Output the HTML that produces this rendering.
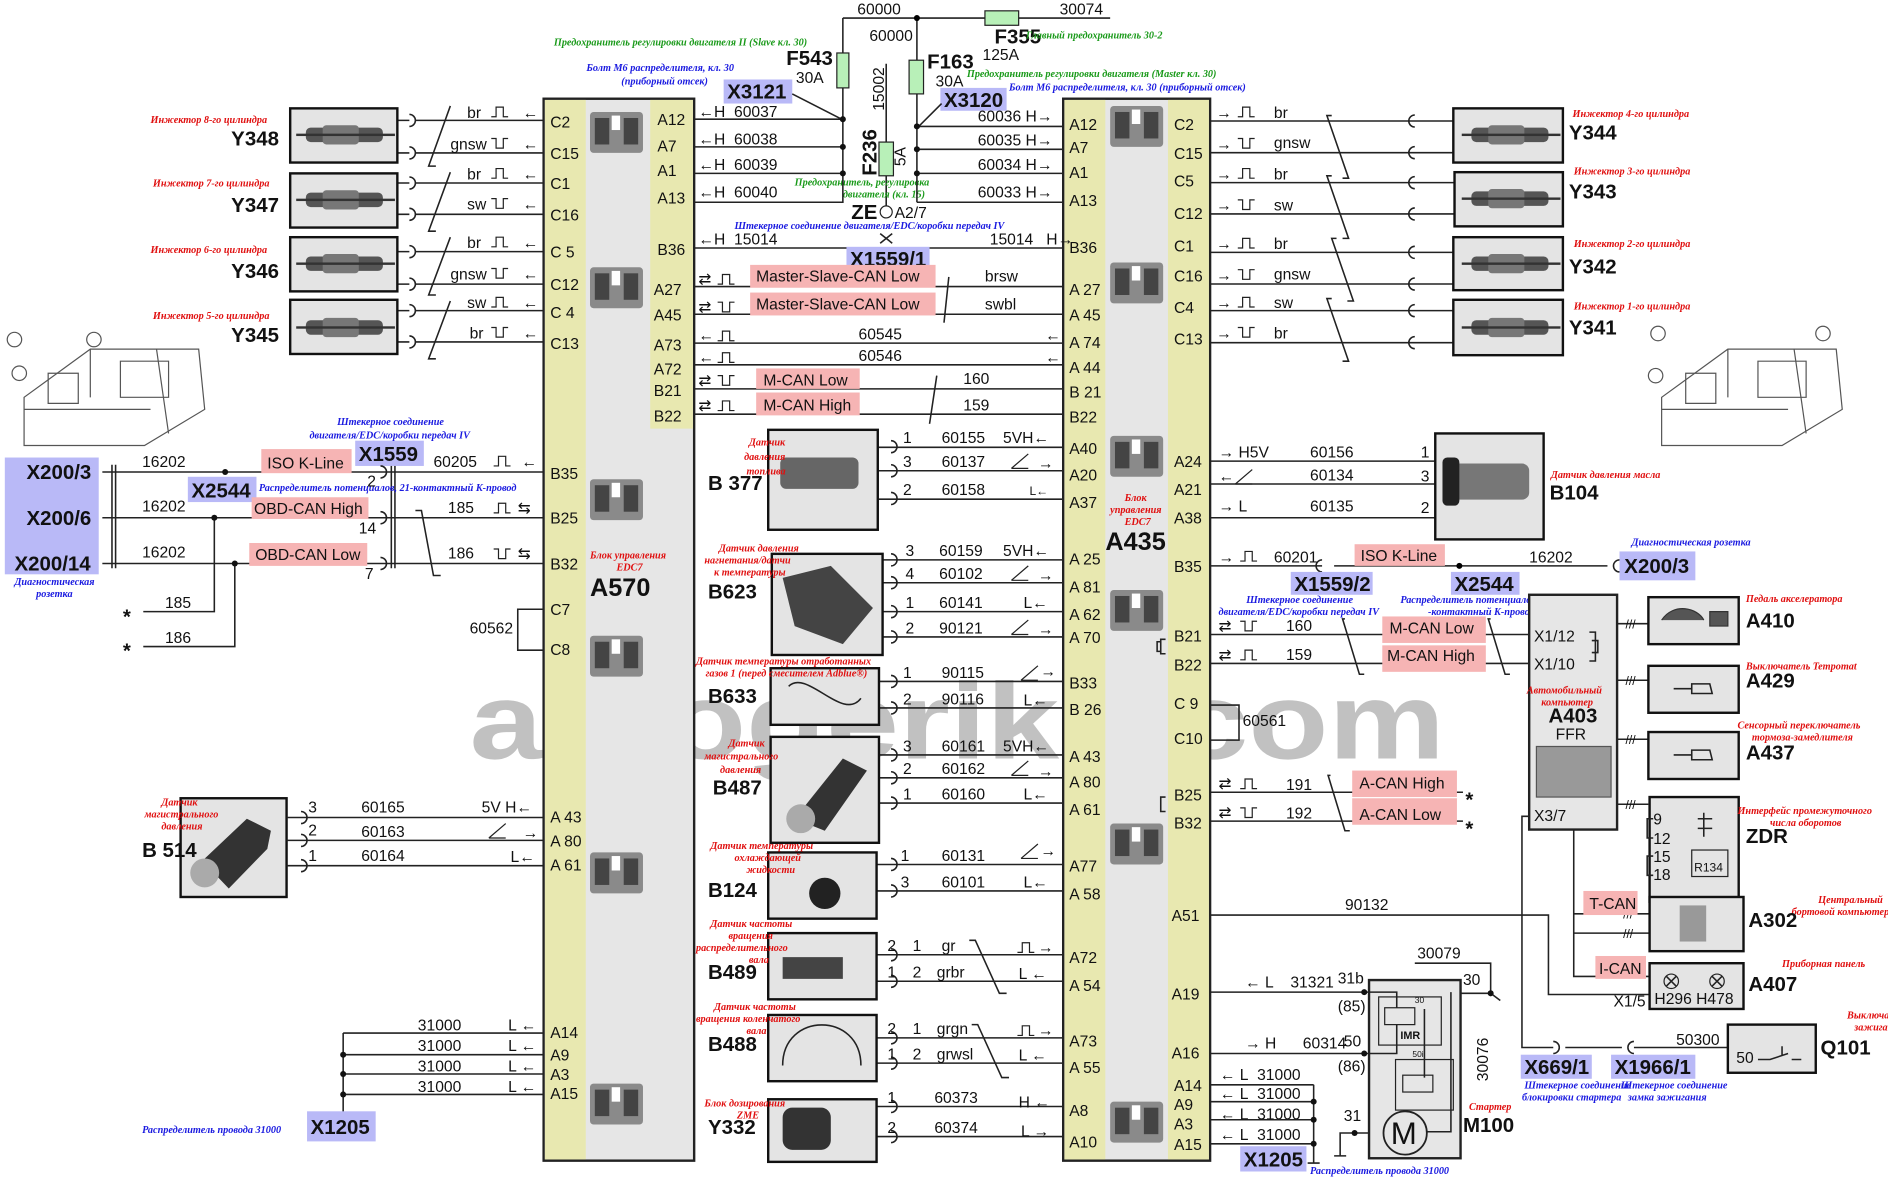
<!DOCTYPE html>
<html><head><meta charset="utf-8"><style>
html,body{margin:0;padding:0;background:#fff}
svg{display:block}
text{font-family:"Liberation Sans",sans-serif;font-size:13px;fill:#111}
.b{font-weight:bold;font-size:17px}
.r{font-family:"Liberation Serif",serif;font-style:italic;font-weight:bold;font-size:8.5px;fill:#e01010}
.u{font-family:"Liberation Serif",serif;font-style:italic;font-weight:bold;font-size:8.5px;fill:#1a1ae0}
.g{font-family:"Liberation Serif",serif;font-style:italic;font-weight:bold;font-size:8.5px;fill:#1a9a1a}
.w{font-size:90px;font-weight:bold;fill:#999;opacity:.6}
.l{stroke:#222;stroke-width:1.3;fill:none}
.pk{fill:#f6b4b4}
.bx{fill:#b9b9f7}
.ph{fill:#e4e4e4;stroke:#111;stroke-width:2}
</style></head><body>
<svg width="1888" height="1178" viewBox="0 0 1568 978.4" preserveAspectRatio="none" xmlns="http://www.w3.org/2000/svg">
<defs>
<path id="pu" d="M0,0h4v-8h6v8h4" fill="none" stroke="#222" stroke-width="1"/>
<path id="pd" d="M0,-8h4v8h6v-8h4" fill="none" stroke="#222" stroke-width="1"/>
<path id="rp" d="M0,0l14,-12M0,0h14" fill="none" stroke="#222" stroke-width="1"/>
<g id="ecu"><rect x="0" y="0" width="44" height="34" rx="3" fill="#8a8a8a"/><rect x="4" y="5" width="12" height="22" fill="#444"/><rect x="28" y="5" width="12" height="22" fill="#444"/><rect x="18" y="3" width="7" height="12" fill="#fff"/></g>
<g id="inj"><rect x="10" y="-6" width="64" height="12" rx="4" fill="#555"/><rect x="24" y="-8" width="30" height="16" rx="3" fill="#777"/><rect x="2" y="-1" width="82" height="2" fill="#333"/></g>
</defs>

<!-- watermark -->
<text class="w" x="390" y="630" textLength="810" lengthAdjust="spacingAndGlyphs">autogeriko.com</text>

<!-- top fuses -->
<path class="l" d="M700,15H922M700,15V144M761.5,15V144M736,53V171"/>
<circle cx="761.5" cy="15" r="2.5"/>
<rect x="818" y="9" width="28" height="12" fill="#b8f0b8" stroke="#222"/>
<rect x="695" y="44" width="10" height="29" fill="#b8f0b8" stroke="#222"/>
<rect x="755" y="50" width="12" height="28" fill="#b8f0b8" stroke="#222"/>
<rect x="730" y="118" width="12" height="28" fill="#b8f0b8" stroke="#222"/>
<text x="712" y="12">60000</text><text x="722" y="34">60000</text><text x="880" y="12">30074</text>
<text class="b" x="826" y="36">F355</text><text class="g" x="852" y="32">Главный предохранитель 30-2</text><text x="816" y="50">125A</text>
<text class="b" x="653" y="54">F543</text><text x="661" y="69">30A</text>
<text class="b" x="770" y="57">F163</text><text x="777" y="72">30A</text>
<text transform="translate(734,92) rotate(-90)">15002</text>
<text class="b" transform="translate(728,146) rotate(-90)">F236</text>
<text transform="translate(752,138) rotate(-90)">5A</text>
<text class="g" x="460" y="38">Предохранитель регулировки двигателя II (Slave кл. 30)</text>
<text class="u" x="487" y="59">Болт M6 распределителя, кл. 30</text><text class="u" x="516" y="70">(приборный отсек)</text>
<rect class="bx" x="601" y="66" width="57" height="20"/><text class="b" x="604" y="82">X3121</text>
<path class="l" d="M658,78L699,99"/>
<text class="g" x="803" y="64">Предохранитель регулировки двигателя (Master кл. 30)</text>
<text class="u" x="838" y="75">Болт M6 распределителя, кл. 30 (приборный отсек)</text>
<rect class="bx" x="781" y="73" width="55" height="19"/><text class="b" x="784" y="89">X3120</text>
<path class="l" d="M782,86L763,105"/>
<text class="g" x="660" y="154">Предохранитель, регулировка</text><text class="g" x="700" y="164">двигателя (кл. 15)</text>
<text class="b" x="707" y="182">ZE</text><circle cx="736" cy="176" r="5" fill="#fff" stroke="#222"/><text x="743" y="181">A2/7</text>
<text class="u" x="610" y="190">Штекерное соединение двигателя/EDC/коробки передач IV</text>

<!-- A570 -->
<rect x="451.5" y="82" width="125" height="882" fill="#e6e6e6" stroke="#222" stroke-width="2"/>
<rect x="452.5" y="83" width="34" height="880" fill="#e8e8b0"/>
<rect x="540" y="83" width="35.5" height="273" fill="#e8e8b0"/>
<use href="#ecu" x="490" y="93"/><use href="#ecu" x="490" y="222"/><use href="#ecu" x="490" y="398"/><use href="#ecu" x="490" y="528"/><use href="#ecu" x="490" y="708"/><use href="#ecu" x="490" y="900"/>
<g>
<text x="457" y="106">C2</text><text x="457" y="132">C15</text><text x="457" y="157">C1</text><text x="457" y="183">C16</text><text x="457" y="214">C 5</text><text x="457" y="241">C12</text><text x="457" y="264">C 4</text><text x="457" y="290">C13</text>
<text x="457" y="398">B35</text><text x="457" y="435">B25</text><text x="457" y="473">B32</text><text x="457" y="511">C7</text><text x="457" y="544">C8</text>
<text x="457" y="683">A 43</text><text x="457" y="703">A 80</text><text x="457" y="723">A 61</text>
<text x="457" y="862">A14</text><text x="457" y="881">A9</text><text x="457" y="897">A3</text><text x="457" y="913">A15</text>
<text x="546" y="104">A12</text><text x="546" y="126">A7</text><text x="546" y="146">A1</text><text x="546" y="169">A13</text><text x="546" y="212">B36</text><text x="543" y="245">A27</text><text x="543" y="266">A45</text><text x="543" y="291">A73</text><text x="543" y="311">A72</text><text x="543" y="329">B21</text><text x="543" y="350">B22</text>
</g>
<text class="r" x="490" y="464">Блок управления</text><text class="r" x="512" y="474">EDC7</text>
<text class="b" x="490" y="495" style="font-size:21px">A570</text>

<!-- A435 -->
<rect x="883" y="82" width="122" height="882" fill="#e6e6e6" stroke="#222" stroke-width="2"/>
<rect x="884" y="83" width="34" height="880" fill="#e8e8b0"/>
<rect x="970" y="83" width="34" height="880" fill="#e8e8b0"/>
<use href="#ecu" x="922" y="88"/><use href="#ecu" x="922" y="218"/><use href="#ecu" x="922" y="362"/><use href="#ecu" x="922" y="490"/><use href="#ecu" x="922" y="684"/><use href="#ecu" x="922" y="915"/>
<g>
<text x="888" y="108">A12</text><text x="888" y="127">A7</text><text x="888" y="148">A1</text><text x="888" y="171">A13</text><text x="888" y="210">B36</text><text x="888" y="245">A 27</text><text x="888" y="266">A 45</text><text x="888" y="289">A 74</text><text x="888" y="310">A 44</text><text x="888" y="330">B 21</text><text x="888" y="351">B22</text>
<text x="888" y="377">A40</text><text x="888" y="399">A20</text><text x="888" y="422">A37</text><text x="888" y="469">A 25</text><text x="888" y="492">A 81</text><text x="888" y="515">A 62</text><text x="888" y="534">A 70</text><text x="888" y="572">B33</text><text x="888" y="594">B 26</text><text x="888" y="633">A 43</text><text x="888" y="654">A 80</text><text x="888" y="677">A 61</text><text x="888" y="724">A77</text><text x="888" y="747">A 58</text><text x="888" y="800">A72</text><text x="888" y="823">A 54</text><text x="888" y="869">A73</text><text x="888" y="891">A 55</text><text x="888" y="927">A8</text><text x="888" y="953">A10</text>
<text x="975" y="108">C2</text><text x="975" y="132">C15</text><text x="975" y="155">C5</text><text x="975" y="182">C12</text><text x="975" y="209">C1</text><text x="975" y="234">C16</text><text x="975" y="260">C4</text><text x="975" y="286">C13</text><text x="975" y="388">A24</text><text x="975" y="411">A21</text><text x="975" y="435">A38</text><text x="975" y="475">B35</text><text x="975" y="533">B21</text><text x="975" y="557">B22</text><text x="975" y="589">C 9</text><text x="975" y="618">C10</text><text x="975" y="665">B25</text><text x="975" y="688">B32</text><text x="973" y="765">A51</text><text x="973" y="830">A19</text><text x="973" y="879">A16</text><text x="975" y="906">A14</text><text x="975" y="922">A9</text><text x="975" y="938">A3</text><text x="975" y="955">A15</text>
</g>
<text class="r" x="934" y="416">Блок</text><text class="r" x="922" y="426">управления</text><text class="r" x="934" y="436">EDC7</text>
<text class="b" x="918" y="457" style="font-size:21px">A435</text>

<!-- A570-A435 connections top -->
<path class="l" d="M577,99H700M577,122H700M577,144H700M577,168H700V144M761.5,105H883M761.5,124H883M761.5,144H883M761.5,168H883V168M761.5,144V168M577,206H883M577,238H883M577,261H883M577,285H883M577,303H883M577,323H883M577,344H883"/>
<g fill="#111"><circle cx="700" cy="99" r="2.5"/><circle cx="700" cy="122" r="2.5"/><circle cx="700" cy="144" r="2.5"/><circle cx="761.5" cy="105" r="2.5"/><circle cx="761.5" cy="124" r="2.5"/><circle cx="761.5" cy="144" r="2.5"/></g>
<text x="580" y="97">←H&#160;&#160;60037</text><text x="580" y="120">←H&#160;&#160;60038</text><text x="580" y="141">←H&#160;&#160;60039</text><text x="580" y="164">←H&#160;&#160;60040</text>
<text x="812" y="101">60036 H→</text><text x="812" y="121">60035 H→</text><text x="812" y="141">60034 H→</text><text x="812" y="164">60033 H→</text>
<text x="580" y="203">←H&#160;&#160;15014</text><text x="822" y="203">15014&#160;&#160;&#160;H→</text>
<path class="l" d="M731,194L741,202M741,194L731,202"/>
<rect class="bx" x="703" y="205" width="69" height="19"/><text class="b" x="706" y="221">X1559/1</text>
<rect class="pk" x="623" y="220" width="154" height="19"/><rect class="pk" x="623" y="243" width="154" height="19"/>
<text x="628" y="234">Master-Slave-CAN Low</text><text x="628" y="257">Master-Slave-CAN Low</text>
<text x="580" y="236">⇄</text><use href="#pu" x="596" y="236"/><text x="580" y="259">⇄</text><use href="#pd" x="596" y="259"/>
<text x="818" y="234">brsw</text><text x="818" y="257">swbl</text>
<path class="l" d="M788,230L784,268"/>
<text x="580" y="283">←</text><use href="#pu" x="596" y="283"/><text x="713" y="282">60545</text><text x="868" y="283">←</text>
<text x="580" y="301">←</text><use href="#pu" x="596" y="301"/><text x="713" y="300">60546</text><text x="868" y="301">←</text>
<rect class="pk" x="628" y="306" width="86" height="17"/><rect class="pk" x="628" y="326" width="86" height="19"/>
<text x="634" y="320">M-CAN Low</text><text x="634" y="341">M-CAN High</text>
<text x="580" y="320">⇄</text><use href="#pd" x="596" y="320"/><text x="580" y="341">⇄</text><use href="#pu" x="596" y="341"/>
<text x="800" y="319">160</text><text x="800" y="341">159</text><path class="l" d="M778,312L772,352"/>

<!-- Left injectors -->
<path class="l" d="M345,100H451M345,127H451M345,152H451M345,178H451M345,209H451M345,236H451M345,258H451M345,284H451"/>
<g class="l"><path d="M330,100h10M330,127h10M330,152h10M330,178h10M330,209h10M330,236h10M330,258h10M330,284h10"/>
<path d="M340,95a5,5 0 0 1 0,10M340,122a5,5 0 0 1 0,10M340,147a5,5 0 0 1 0,10M340,173a5,5 0 0 1 0,10M340,204a5,5 0 0 1 0,10M340,231a5,5 0 0 1 0,10M340,253a5,5 0 0 1 0,10M340,279a5,5 0 0 1 0,10"/>
<path d="M374,88L356,138h6M374,143L356,192h6M374,197L356,245h6M374,250L356,298h6"/></g>
<rect class="ph" x="241" y="90" width="89" height="45"/><use href="#inj" x="244" y="112"/>
<rect class="ph" x="241" y="144" width="89" height="45"/><use href="#inj" x="244" y="166"/>
<rect class="ph" x="241" y="197" width="89" height="45"/><use href="#inj" x="244" y="219"/>
<rect class="ph" x="241" y="249" width="89" height="45"/><use href="#inj" x="244" y="272"/>
<text class="r" x="125" y="102">Инжектор 8-го цилиндра</text><text class="b" x="192" y="121">Y348</text>
<text class="r" x="127" y="155">Инжектор 7-го цилиндра</text><text class="b" x="192" y="176">Y347</text>
<text class="r" x="125" y="210">Инжектор 6-го цилиндра</text><text class="b" x="192" y="231">Y346</text>
<text class="r" x="127" y="265">Инжектор 5-го цилиндра</text><text class="b" x="192" y="284">Y345</text>
<text x="388" y="98">br</text><use href="#pu" x="408" y="97"/><text x="434" y="98">←</text>
<text x="374" y="124">gnsw</text><use href="#pd" x="408" y="123"/><text x="434" y="124">←</text>
<text x="388" y="149">br</text><use href="#pu" x="408" y="148"/><text x="434" y="149">←</text>
<text x="388" y="174">sw</text><use href="#pd" x="408" y="173"/><text x="434" y="174">←</text>
<text x="388" y="206">br</text><use href="#pu" x="408" y="205"/><text x="434" y="206">←</text>
<text x="374" y="232">gnsw</text><use href="#pd" x="408" y="231"/><text x="434" y="232">←</text>
<text x="388" y="256">sw</text><use href="#pu" x="408" y="255"/><text x="434" y="256">←</text>
<text x="390" y="281">br</text><use href="#pd" x="408" y="280"/><text x="434" y="281">←</text>

<!-- ECU drawings -->
<g fill="none" stroke="#555" stroke-width="1">
<path d="M20,330L75,290H165L170,340L120,370H20Z"/><path d="M20,340H125M75,290V330M100,300h40v30h-40zM40,310h25v25h-25zM130,290l10,70"/><circle cx="12" cy="282" r="6"/><circle cx="78" cy="282" r="6"/><circle cx="16" cy="310" r="6"/>
<path d="M1380,330L1435,290H1525L1530,340L1480,370H1380Z"/><path d="M1380,340H1485M1435,290V330M1460,300h40v30h-40zM1400,310h25v25h-25zM1490,290l10,70"/><circle cx="1377" cy="277" r="6"/><circle cx="1514" cy="277" r="6"/><circle cx="1375" cy="312" r="6"/>
</g>

<!-- Diagnostic left -->
<rect class="bx" x="4" y="380" width="78" height="97"/>
<text class="b" x="22" y="398">X200/3</text><text class="b" x="22" y="436">X200/6</text><text class="b" x="12" y="474">X200/14</text>
<text class="u" x="12" y="486">Диагностическая</text><text class="u" x="30" y="496">розетка</text>
<path class="l" d="M85,392H451M85,430H451M85,468H451M93,386V472M96,386V472M325,386V472M328,386V472M178,430V508H119M195,468V537H119"/>
<g fill="#111"><circle cx="187" cy="392" r="2.5"/><circle cx="178" cy="430" r="2.5"/><circle cx="195" cy="468" r="2.5"/></g>
<text x="118" y="388">16202</text><text x="118" y="425">16202</text><text x="118" y="463">16202</text>
<text x="137" y="505">185</text><text x="137" y="534">186</text>
<text class="b" x="102" y="518">*</text><text class="b" x="102" y="546">*</text>
<rect class="pk" x="217" y="373" width="75" height="20"/><text x="222" y="389">ISO K-Line</text>
<rect class="bx" x="295" y="366" width="57" height="21"/><text class="b" x="298" y="383">X1559</text>
<rect class="bx" x="156" y="396" width="57" height="21"/><text class="b" x="159" y="413">X2544</text>
<text class="u" x="215" y="408">Распределитель потенциалов, 21-контактный K-провод</text>
<text class="u" x="280" y="353">Штекерное соединение</text><text class="u" x="257" y="364">двигателя/EDC/коробки передач IV</text>
<rect class="pk" x="209" y="413" width="97" height="18"/><text x="211" y="427">OBD-CAN High</text>
<rect class="pk" x="207" y="451" width="98" height="19"/><text x="212" y="465">OBD-CAN Low</text>
<text x="305" y="404">2</text><text x="298" y="443">14</text><text x="303" y="481">7</text>
<path class="l" d="M316,387a5,5 0 0 1 0,10M316,425a5,5 0 0 1 0,10M316,463a5,5 0 0 1 0,10M345,424h5l10,54h6"/>
<text x="360" y="388">60205</text><use href="#pu" x="410" y="387"/><text x="433" y="388">←</text>
<text x="372" y="426">185</text><use href="#pu" x="410" y="426"/><text x="430" y="426">⇆</text>
<text x="372" y="464">186</text><use href="#pd" x="410" y="464"/><text x="430" y="464">⇆</text>
<path class="l" d="M451,506H430V540H451"/><text x="390" y="526">60562</text>

<!-- B514 -->
<rect class="ph" x="150" y="663" width="88" height="82"/><path d="M168,715L205,680L225,690L222,705L190,738Z" fill="#333"/><circle cx="170" cy="725" r="12" fill="#aaa"/>
<text class="r" x="134" y="669">Датчик</text><text class="r" x="120" y="679">магистрального</text><text class="r" x="134" y="689">давления</text>
<text class="b" x="118" y="712">B 514</text>
<path class="l" d="M238,679H451M238,698H451M238,719H451M250,674a5,5 0 0 1 0,10M250,693a5,5 0 0 1 0,10M250,714a5,5 0 0 1 0,10"/>
<text x="256" y="675">3</text><text x="256" y="694">2</text><text x="256" y="715">1</text>
<text x="300" y="675">60165</text><text x="300" y="695">60163</text><text x="300" y="715">60164</text>
<text x="400" y="675">5V H←</text><use href="#rp" x="406" y="696"/><text x="434" y="696">→</text><text x="424" y="716">L←</text>

<!-- 31000 left -->
<path class="l" d="M285,858H451M285,876H451M285,892H451M285,909H451M285,858V932M280,932h10"/>
<g fill="#111"><circle cx="285" cy="876" r="2.5"/><circle cx="285" cy="892" r="2.5"/><circle cx="285" cy="909" r="2.5"/></g>
<text x="347" y="856">31000</text><text x="347" y="873">31000</text><text x="347" y="890">31000</text><text x="347" y="907">31000</text>
<text x="422" y="856">L ←</text><text x="422" y="873">L ←</text><text x="422" y="890">L ←</text><text x="422" y="907">L ←</text>
<rect class="bx" x="255" y="923" width="57" height="25"/><text class="b" x="258" y="942">X1205</text>
<text class="u" x="118" y="941">Распределитель провода 31000</text>

<!-- middle sensors -->
<g class="l">
<path d="M729,371.5H883M729,391H883M729,414.6H883M733,465H883M733,484H883M733,508H883M733,529H883M730,566H883M730,588H883M730,627H883M730,646H883M730,667H883M728,718H883M728,740H883M728,793H883M728,815H883M728,862H883M728,883H883M728,919H883M728,944H883"/>
<path d="M740,366a5,5 0 0 1 0,10M740,386a5,5 0 0 1 0,10M740,409a5,5 0 0 1 0,10M740,460a5,5 0 0 1 0,10M740,479a5,5 0 0 1 0,10M740,503a5,5 0 0 1 0,10M740,524a5,5 0 0 1 0,10M740,561a5,5 0 0 1 0,10M740,583a5,5 0 0 1 0,10M740,622a5,5 0 0 1 0,10M740,641a5,5 0 0 1 0,10M740,662a5,5 0 0 1 0,10M740,713a5,5 0 0 1 0,10M740,735a5,5 0 0 1 0,10M740,788a5,5 0 0 1 0,10M740,810a5,5 0 0 1 0,10M740,857a5,5 0 0 1 0,10M740,878a5,5 0 0 1 0,10M740,914a5,5 0 0 1 0,10M740,939a5,5 0 0 1 0,10"/>
<path d="M805,781h5l20,44h6M807,851h5l20,44h6"/>
</g>
<rect class="ph" x="638" y="357" width="91" height="83"/><rect x="648" y="380" width="65" height="26" rx="5" fill="#666"/>
<rect class="ph" x="641" y="460" width="92" height="84"/><path d="M650,480L690,470L725,505L700,535L660,520Z" fill="#444"/>
<rect class="ph" x="640" y="555" width="90" height="47"/><path class="l" d="M655,570C670,555 700,600 715,580"/>
<rect class="ph" x="640" y="612" width="90" height="88"/><path d="M660,680L700,630L720,640L685,690Z" fill="#333"/><circle cx="665" cy="680" r="12" fill="#aaa"/>
<rect class="ph" x="638" y="708" width="90" height="55"/><circle cx="685" cy="742" r="13" fill="#222"/>
<rect class="ph" x="638" y="775" width="90" height="55"/><path d="M650,795h50v18h-50z" fill="#444"/>
<rect class="ph" x="638" y="843" width="90" height="55"/><path class="l" d="M650,885C650,840 715,840 715,885" stroke-width="3" stroke="#666"/>
<rect class="ph" x="638" y="913" width="90" height="52"/><rect x="650" y="920" width="40" height="35" rx="8" fill="#333"/>
<text class="r" x="622" y="370">Датчик</text><text class="r" x="618" y="382">давления</text><text class="r" x="620" y="394">топлива</text><text class="b" x="588" y="407">B 377</text>
<text class="r" x="597" y="458">Датчик давления</text><text class="r" x="585" y="468">нагнетания/датчи</text><text class="r" x="593" y="478">к температуры</text><text class="b" x="588" y="497">B623</text>
<text class="r" x="578" y="552">Датчик температуры отработанных</text><text class="r" x="586" y="562">газов 1 (перед смесителем Adblue®)</text><text class="b" x="588" y="584">B633</text>
<text class="r" x="605" y="620">Датчик</text><text class="r" x="585" y="631">магистрального</text><text class="r" x="598" y="642">давления</text><text class="b" x="592" y="660">B487</text>
<text class="r" x="590" y="705">Датчик температуры</text><text class="r" x="610" y="715">охлаждающей</text><text class="r" x="620" y="725">жидкости</text><text class="b" x="588" y="745">B124</text>
<text class="r" x="590" y="770">Датчик частоты</text><text class="r" x="605" y="780">вращения</text><text class="r" x="578" y="790">распределительного</text><text class="r" x="622" y="800">вала</text><text class="b" x="588" y="813">B489</text>
<text class="r" x="593" y="839">Датчик частоты</text><text class="r" x="578" y="849">вращения коленчатого</text><text class="r" x="620" y="859">вала</text><text class="b" x="588" y="873">B488</text>
<text class="r" x="585" y="919">Блок дозирования</text><text class="r" x="612" y="929">ZME</text><text class="b" x="588" y="942">Y332</text>
<g>
<text x="750" y="368">1</text><text x="782" y="368">60155</text><text x="833" y="368">5VH←</text>
<text x="750" y="388">3</text><text x="782" y="388">60137</text><use href="#rp" x="840" y="389"/><text x="862" y="389">→</text>
<text x="750" y="411">2</text><text x="782" y="411">60158</text><text x="855" y="411" style="font-size:10px">L←</text>
<text x="752" y="462">3</text><text x="780" y="462">60159</text><text x="833" y="462">5VH←</text>
<text x="752" y="481">4</text><text x="780" y="481">60102</text><use href="#rp" x="840" y="482"/><text x="862" y="482">→</text>
<text x="752" y="505">1</text><text x="780" y="505">60141</text><text x="850" y="505">L←</text>
<text x="752" y="526">2</text><text x="780" y="526">90121</text><use href="#rp" x="840" y="527"/><text x="862" y="527">→</text>
<text x="750" y="563">1</text><text x="782" y="563">90115</text><use href="#rp" x="848" y="565"/><text x="864" y="562">→</text>
<text x="750" y="585">2</text><text x="782" y="585">90116</text><text x="850" y="586">L←</text>
<text x="750" y="624">3</text><text x="782" y="624">60161</text><text x="833" y="624">5VH←</text>
<text x="750" y="643">2</text><text x="782" y="643">60162</text><use href="#rp" x="840" y="644"/><text x="862" y="645">→</text>
<text x="750" y="664">1</text><text x="782" y="664">60160</text><text x="850" y="664">L←</text>
<text x="748" y="715">1</text><text x="782" y="715">60131</text><use href="#rp" x="848" y="713"/><text x="864" y="711">→</text>
<text x="748" y="737">3</text><text x="782" y="737">60101</text><text x="850" y="737">L←</text>
<text x="737" y="790">2</text><text x="758" y="790">1</text><text x="782" y="790">gr</text><use href="#pu" x="845" y="791"/><text x="862" y="791">→</text>
<text x="737" y="812">1</text><text x="758" y="812">2</text><text x="778" y="812">grbr</text><text x="846" y="813">L ←</text>
<text x="737" y="859">2</text><text x="758" y="859">1</text><text x="778" y="859">grgn</text><use href="#pu" x="845" y="860"/><text x="862" y="860">→</text>
<text x="737" y="880">1</text><text x="758" y="880">2</text><text x="778" y="880">grwsl</text><text x="846" y="881">L ←</text>
<text x="737" y="916">1</text><text x="776" y="916">60373</text><text x="846" y="920">H ←</text>
<text x="737" y="941">2</text><text x="776" y="941">60374</text><text x="848" y="944">L →</text>
</g>

<!-- right injectors -->
<path class="l" d="M1005,100.5H1208M1005,126.8H1208M1005,151.7H1208M1005,177.7H1208M1005,209.6H1208M1005,235.9H1208M1005,258H1208M1005,284.6H1208"/>
<g class="l"><path d="M1175,95.5a5,5 0 0 0 0,10M1175,121.8a5,5 0 0 0 0,10M1175,146.7a5,5 0 0 0 0,10M1175,172.7a5,5 0 0 0 0,10M1175,204.6a5,5 0 0 0 0,10M1175,230.9a5,5 0 0 0 0,10M1175,253a5,5 0 0 0 0,10M1175,279.6a5,5 0 0 0 0,10"/>
<path d="M1106,96h-4l18,52h-5M1106,146h-4l18,52h-5M1110,198h-4l18,52h-5M1106,248h-4l18,52h-5"/></g>
<rect class="ph" x="1207" y="90" width="91" height="45"/><use href="#inj" x="1212" y="112"/>
<rect class="ph" x="1208" y="143" width="90" height="45"/><use href="#inj" x="1212" y="165"/>
<rect class="ph" x="1207" y="197" width="91" height="44"/><use href="#inj" x="1212" y="219"/>
<rect class="ph" x="1207" y="249" width="91" height="46"/><use href="#inj" x="1212" y="272"/>
<text class="r" x="1306" y="97">Инжектор 4-го цилиндра</text><text class="b" x="1303" y="116">Y344</text>
<text class="r" x="1307" y="145">Инжектор 3-го цилиндра</text><text class="b" x="1303" y="165">Y343</text>
<text class="r" x="1307" y="205">Инжектор 2-го цилиндра</text><text class="b" x="1303" y="227">Y342</text>
<text class="r" x="1307" y="257">Инжектор 1-го цилиндра</text><text class="b" x="1303" y="278">Y341</text>
<g>
<text x="1010" y="98">→</text><use href="#pu" x="1028" y="97"/><text x="1058" y="98">br</text>
<text x="1010" y="124">→</text><use href="#pd" x="1028" y="123"/><text x="1058" y="123">gnsw</text>
<text x="1010" y="149">→</text><use href="#pu" x="1028" y="148"/><text x="1058" y="149">br</text>
<text x="1010" y="175">→</text><use href="#pd" x="1028" y="174"/><text x="1058" y="175">sw</text>
<text x="1010" y="207">→</text><use href="#pu" x="1028" y="206"/><text x="1058" y="207">br</text>
<text x="1010" y="233">→</text><use href="#pd" x="1028" y="232"/><text x="1058" y="232">gnsw</text>
<text x="1010" y="256">→</text><use href="#pu" x="1028" y="255"/><text x="1058" y="256">sw</text>
<text x="1010" y="281">→</text><use href="#pd" x="1028" y="280"/><text x="1058" y="281">br</text>
</g>

<!-- B104 -->
<path class="l" d="M1005,383H1192M1005,402H1192M1005,430H1192"/>
<rect class="ph" x="1192" y="360" width="90" height="88"/><rect x="1200" y="385" width="70" height="30" rx="6" fill="#777"/><rect x="1198" y="380" width="14" height="40" rx="4" fill="#222"/>
<text x="1012" y="380">→ H5V</text><text x="1088" y="380">60156</text><text x="1180" y="380">1</text>
<text x="1012" y="400">←</text><use href="#rp" x="1026" y="402"/><text x="1088" y="399">60134</text><text x="1180" y="400">3</text>
<text x="1012" y="425">→ L</text><text x="1088" y="425">60135</text><text x="1180" y="426">2</text>
<text class="r" x="1288" y="397">Датчик давления масла</text><text class="b" x="1287" y="415">B104</text>

<!-- B35 right -->
<path class="l" d="M1005,470H1098M1108,470H1335M1098,465a5,5 0 0 0 0,10M1345,465a5,5 0 0 0 0,10"/>
<circle cx="1212" cy="470" r="2.5"/>
<text x="1012" y="467">→</text><use href="#pu" x="1030" y="466"/><text x="1058" y="467">60201</text>
<rect class="pk" x="1125" y="452" width="75" height="18"/><text x="1130" y="466">ISO K-Line</text>
<text x="1270" y="467">16202</text>
<rect class="bx" x="1345" y="458" width="63" height="24"/><text class="b" x="1349" y="476">X200/3</text>
<text class="u" x="1355" y="453">Диагностическая розетка</text>
<rect class="bx" x="1072" y="475" width="68" height="19"/><text class="b" x="1075" y="491">X1559/2</text>
<rect class="bx" x="1205" y="475" width="57" height="19"/><text class="b" x="1208" y="491">X2544</text>
<text class="u" x="1035" y="501">Штекерное соединение</text><text class="u" x="1012" y="511">двигателя/EDC/коробки передач IV</text>
<text class="u" x="1163" y="501">Распределитель потенциалов, 21</text><text class="u" x="1186" y="511">-контактный K-провод</text>

<!-- M-CAN right -->
<path class="l" d="M1005,527H1270M1005,551H1270M1117,514h-2l14,46h4M1238,514h-2l14,46h4"/>
<rect class="pk" x="1148" y="512" width="86" height="22"/><rect class="pk" x="1148" y="536" width="86" height="22"/>
<text x="1154" y="526">M-CAN Low</text><text x="1152" y="549">M-CAN High</text>
<text x="1012" y="524">⇄</text><use href="#pd" x="1030" y="524"/><text x="1068" y="524">160</text>
<text x="1012" y="548">⇄</text><use href="#pu" x="1030" y="548"/><text x="1068" y="548">159</text>
<path class="l" d="M968,531h-4v12h4M964,533h-3v8h3"/>
<!-- C9/C10 -->
<path class="l" d="M1005,585.6H1029V614.7H1005"/><text x="1032" y="603">60561</text>
<!-- A-CAN -->
<path class="l" d="M1005,658H1215M1005,682H1215M1105,644h-2l14,46h4"/>
<rect class="pk" x="1123" y="640" width="87" height="22"/><rect class="pk" x="1123" y="663" width="87" height="22"/>
<text x="1129" y="655">A-CAN High</text><text x="1129" y="681">A-CAN Low</text>
<text x="1012" y="655">⇄</text><use href="#pu" x="1030" y="655"/><text x="1068" y="656">191</text>
<text x="1012" y="679">⇄</text><use href="#pd" x="1030" y="679"/><text x="1068" y="680">192</text>
<text class="b" x="1217" y="670">*</text><text class="b" x="1217" y="694">*</text>
<path class="l" d="M968,662h-4v12h4"/>

<!-- A403 and right modules -->
<rect x="1270" y="494" width="73" height="195" fill="#e6e6e6" stroke="#222" stroke-width="2"/>
<text x="1274" y="533">X1/12</text><text x="1274" y="556">X1/10</text><path class="l" d="M1320,525h5v24h-5M1322,532h5v10h-5"/>
<text class="r" x="1268" y="576">Автомобильный</text><text class="r" x="1280" y="586">компьютер</text>
<text class="b" x="1286" y="600">A403</text><text x="1292" y="614">FFR</text>
<rect x="1276" y="620" width="62" height="42" fill="#999" stroke="#555"/>
<text x="1274" y="682">X3/7</text>
<path class="l" d="M1343,518H1369M1343,565H1369M1343,614H1369M1343,668H1369"/>
<text x="1350" y="522" style="font-size:10px">///</text><text x="1350" y="569" style="font-size:10px">///</text><text x="1350" y="618" style="font-size:10px">///</text><text x="1350" y="672" style="font-size:10px">///</text>
<rect class="ph" x="1369" y="496" width="75" height="39"/><path d="M1380,515c10,-15 30,-10 35,0M1420,508h15v12h-15z" stroke="#333" fill="#555"/>
<rect class="ph" x="1369" y="553" width="75" height="39"/><path class="l" d="M1390,572h15M1405,568h15l2,8h-17z"/>
<rect class="ph" x="1369" y="608" width="75" height="39"/><path class="l" d="M1390,627h15M1405,623h15l2,8h-17z"/>
<rect class="ph" x="1370" y="662" width="74" height="87"/>
<text x="1373" y="685">9</text><text x="1373" y="701">12</text><text x="1373" y="716">15</text><text x="1373" y="731">18</text>
<path class="l" d="M1373,680h-5v16h5M1373,711h-5v16h5"/>
<rect x="1405" y="706" width="30" height="22" fill="none" stroke="#222"/><text x="1407" y="724" style="font-size:10px">R134</text>
<path class="l" d="M1415,675v20M1410,680h12M1410,688h12"/>
<text class="r" x="1450" y="500">Педаль акселератора</text><text class="b" x="1450" y="521">A410</text>
<text class="r" x="1450" y="556">Выключатель Tempomat</text><text class="b" x="1450" y="571">A429</text>
<text class="r" x="1443" y="605">Сенсорный переключатель</text><text class="r" x="1455" y="615">тормоза-замедлителя</text><text class="b" x="1450" y="631">A437</text>
<text class="r" x="1443" y="676">Интерфейс промежуточного</text><text class="r" x="1470" y="686">числа оборотов</text><text class="b" x="1450" y="700">ZDR</text>

<path class="l" d="M1307,689V811H1370M1307,759H1370M1307,775H1370M1005,760H1286V826H1370M1270,678H1264V870H1290M1300,870H1347M1357,870H1435"/>
<path class="l" d="M1290,865a5,5 0 0 1 0,10M1357,865a5,5 0 0 0 0,10"/>
<text x="1348" y="763" style="font-size:10px">///</text><text x="1348" y="779" style="font-size:10px">///</text>
<rect class="pk" x="1315" y="740" width="45" height="20"/><text x="1320" y="755">T-CAN</text>
<rect class="pk" x="1325" y="794" width="42" height="19"/><text x="1328" y="809">I-CAN</text>
<rect class="ph" x="1370" y="745" width="78" height="45"/><rect x="1395" y="752" width="22" height="30" fill="#999"/>
<rect class="ph" x="1370" y="800" width="78" height="38"/>
<circle cx="1388" cy="815" r="6" fill="none" stroke="#222"/><circle cx="1426" cy="815" r="6" fill="none" stroke="#222"/>
<path class="l" d="M1384,811l8,8M1392,811l-8,8M1422,811l8,8M1430,811l-8,8"/>
<text x="1374" y="834">H296 H478</text><text x="1340" y="836">X1/5</text>
<text x="1117" y="756">90132</text>
<text class="r" x="1510" y="750">Центральный</text><text class="r" x="1488" y="760">бортовой компьютер</text><text class="b" x="1452" y="770">A302</text>
<text class="r" x="1480" y="803">Приборная панель</text><text class="b" x="1452" y="823">A407</text>
<rect class="ph" x="1435" y="851" width="73" height="40"/><text x="1442" y="883">50</text><path class="l" d="M1460,880h10l15,-5M1480,877v-8M1488,880h8"/>
<text class="r" x="1534" y="846">Выключатель</text><text class="r" x="1540" y="856">зажигания</text><text class="b" x="1512" y="876">Q101</text>
<text x="1392" y="868">50300</text>
<rect class="bx" x="1263" y="876" width="59" height="20"/><text class="b" x="1266" y="892">X669/1</text>
<rect class="bx" x="1338" y="876" width="70" height="20"/><text class="b" x="1341" y="892">X1966/1</text>
<text class="u" x="1266" y="904">Штекерное соединение</text><text class="u" x="1264" y="914">блокировки стартера</text>
<text class="u" x="1346" y="904">Штекерное соединение</text><text class="u" x="1352" y="914">замка зажигания</text>

<!-- M100 -->
<path class="l" d="M1005,824H1137M1005,875H1137M1005,901H1091M1005,915H1091M1005,930H1091M1005,950H1091M1091,901V966M1086,966h10M1137,941H1113V960M1108,960h10M1175,800H1238V825M1213,825H1240M1238,825l8,6"/>
<g fill="#111"><circle cx="1133" cy="824" r="2.5"/><circle cx="1133" cy="875" r="2.5"/><circle cx="1125" cy="941" r="2.5"/><circle cx="1091" cy="915" r="2.5"/><circle cx="1091" cy="930" r="2.5"/><circle cx="1091" cy="950" r="2.5"/><circle cx="1238" cy="825" r="2.5"/></g>
<rect x="1137" y="814" width="76" height="148" fill="#e6e6e6" stroke="#222" stroke-width="2"/>
<rect x="1145" y="828" width="52" height="40" fill="none" stroke="#222"/><rect x="1150" y="837" width="25" height="14" fill="none" stroke="#222"/>
<rect x="1159" y="880" width="48" height="42" fill="none" stroke="#222"/><rect x="1165" y="893" width="25" height="14" fill="none" stroke="#222"/>
<path class="l" d="M1137,824H1160V837M1137,875H1160V851M1205,824V918M1183,838V895M1175,940H1205V918"/>
<circle cx="1167" cy="941" r="18" fill="#e6e6e6" stroke="#222" stroke-width="1.5"/><text x="1155" y="950" style="font-size:26px">M</text>
<text x="1163" y="863" style="font-size:9px;font-weight:bold">IMR</text><text x="1173" y="878" style="font-size:7px">50i</text><text x="1175" y="833" style="font-size:7px">30</text>
<text x="1034" y="820">← L</text><text x="1050" y="820">&#160;&#160;&#160;&#160;&#160;&#160;31321</text>
<text x="1034" y="871">→ H</text><text x="1082" y="871">60314</text>
<text x="1013" y="897">← L&#160;&#160;31000</text><text x="1013" y="913">← L&#160;&#160;31000</text><text x="1013" y="930">← L&#160;&#160;31000</text><text x="1013" y="947">← L&#160;&#160;31000</text>
<text x="1111" y="817">31b</text><text x="1111" y="840">(85)</text><text x="1116" y="869">50</text><text x="1111" y="890">(86)</text><text x="1116" y="931">31</text>
<text x="1177" y="796">30079</text><text x="1215" y="818">30</text>
<text transform="translate(1236,898) rotate(-90)">30076</text>
<text class="r" x="1220" y="922">Стартер</text><text class="b" x="1215" y="940">M100</text>
<rect class="bx" x="1030" y="952" width="55" height="21"/><text class="b" x="1033" y="969">X1205</text>
<text class="u" x="1088" y="975">Распределитель провода 31000</text>
</svg>
</body></html>
